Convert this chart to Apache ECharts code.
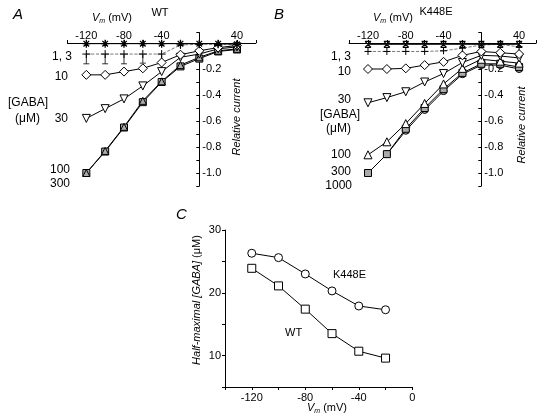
<!DOCTYPE html>
<html><head><meta charset="utf-8">
<script src="https://cdn.jsdelivr.net/npm/echarts@6/dist/echarts.min.js"></script>
<style>html,body{margin:0;padding:0;background:#fff}#c{width:546px;height:419px}</style>
</head><body><div id="c"></div>
<script>
// Panel A/B voltages (mV)
const vm = [-120,-100,-80,-60,-40,-20,0,20,40];
// Panel A: WT relative currents
const wt1   = [-0.005,-0.005,-0.005,-0.005,-0.005,-0.005,-0.005,-0.005,-0.01];
const wt3   = [-0.085,-0.085,-0.085,-0.085,-0.085,-0.015,-0.01,-0.01,-0.015];
const wt3Err= [0.075,0.075,0.075,0.07,0.07];
const wt10  = [-0.245,-0.245,-0.22,-0.195,-0.15,-0.09,-0.06,-0.035,-0.02];
const wt30  = [-0.58,-0.505,-0.43,-0.33,-0.22,-0.11,-0.085,-0.045,-0.03];
const wt100 = [-1.0,-0.83,-0.645,-0.445,-0.295,-0.17,-0.11,-0.06,-0.045];
const wt300 = [-1.0,-0.835,-0.65,-0.455,-0.3,-0.18,-0.12,-0.065,-0.05];
// Panel B: K448E relative currents
const k1    = [-0.01,-0.01,-0.01,-0.01,-0.01,-0.01,-0.01,-0.01,-0.01];
const k3    = [-0.065,-0.065,-0.065,-0.065,-0.06,-0.04,-0.015,-0.01,-0.03];
const k10   = [-0.2,-0.2,-0.195,-0.17,-0.145,-0.095,-0.065,-0.075,-0.085];
const k30   = [-0.46,-0.42,-0.375,-0.3,-0.235,-0.15,-0.095,-0.1,-0.115];
const k100  = [-0.86,-0.76,-0.62,-0.465,-0.315,-0.195,-0.125,-0.14,-0.155];
const k300  = [-1.0,-0.855,-0.66,-0.5,-0.355,-0.23,-0.16,-0.16,-0.185];
const k1000 = [-1.0,-0.855,-0.675,-0.515,-0.37,-0.24,-0.17,-0.17,-0.2];
// Panel C: half-maximal [GABA] (uM)
const cVm   = [-120,-100,-80,-60,-40,-20];
const cK448E= [26.3,25.6,23.0,20.3,17.9,17.3];
const cWT   = [23.9,21.1,17.4,13.5,10.7,9.6];
// tick labels
const abXLabels = [-120,-80,-40,40];
const abYLabels = [-0.2,-0.4,-0.6,-0.8,-1.0];
const cXLabels = [-120,-80,-40,0];
const cYLabels = [10,20,30];

const FONT = 'Liberation Sans, Arial, sans-serif';
const SYM = {
  star: 'path://M0,5 L10,5 M5,0 L5,10 M1.5,1.5 L8.5,8.5 M8.5,1.5 L1.5,8.5',
  plus: 'path://M0,5 L10,5 M5,0 L5,10',
  hour: 'path://M0,0 L10,0 M0,10 L10,10 M0,0 L10,10 M10,0 L0,10'
};
const pair = (xs, ys) => xs.map((x,i)=>[x, ys[i]]);

function ivSeries(idx, ys, symbol, opts) {
  opts = opts || {};
  return {
    type:'line', xAxisIndex: idx, yAxisIndex: idx, data: pair(vm, ys),
    symbol: symbol, symbolSize: opts.size || 7, symbolRotate: opts.rot || 0,
    showAllSymbol: true, animation: false, z: opts.z || 3,
    lineStyle: {color: opts.lc || '#000', width: opts.lw || 1, type: opts.dash ? 'dashed' : 'solid'},
    itemStyle: {color: opts.fill || '#fff', borderColor:'#000', borderWidth: opts.bw || 1, opacity:1},
    emphasis: {disabled:true}
  };
}

// grid geometry: x axis sits at y=0, y axis at x=0 (placed via offset from the grid edge)
function ivX(idx, max, off) {
  return {
    type:'value', gridIndex: idx, min:-140, max: max, interval:20, position:'top', offset: off,
    axisLine:{onZero:false, lineStyle:{color:'#000', width:1}},
    axisTick:{show:true, length:3, lineStyle:{color:'#000'}},
    axisLabel:{color:'#000', fontSize:11, fontFamily:FONT, margin:2,
      formatter: v => abXLabels.includes(v) ? String(v) : ''},
    splitLine:{show:false}, z:1
  };
}
function ivY(idx, off) {
  return {
    type:'value', gridIndex: idx, min:-1.1, max:0.08, interval:0.1, position:'right', offset: off,
    axisLine:{onZero:false, lineStyle:{color:'#000', width:1}},
    axisTick:{show:true, inside:true, length:3, lineStyle:{color:'#000'}},
    axisLabel:{color:'#000', fontSize:11, fontFamily:FONT, margin:3,
      formatter: v => { const r = Math.round(v*10)/10; return abYLabels.includes(r) ? r.toFixed(1) : ''; }},
    splitLine:{show:false}, z:1
  };
}

const vmRich = {
  i:{fontStyle:'italic', fontSize:11, fontFamily:FONT, fill:'#000'},
  s:{fontStyle:'italic', fontSize:7, fontFamily:FONT, fill:'#000', padding:[6,0,0,0]},
  n:{fontSize:11, fontFamily:FONT, fill:'#000'}
};
function txt(x, y, text, o) {
  o = o || {};
  return {type:'text', x:x, y:y, rotation: o.rot || 0, silent:true,
    style:{text:text, fill:'#000', fontSize:o.size || 11, fontFamily:FONT, fontStyle:o.italic?'italic':'normal',
      align:o.align || 'left', verticalAlign:'middle', rich:o.rich}};
}

const option = {
  backgroundColor:'#fff', animation:false,
  grid:[
    {left:67.5, top:32.6, width:188.3, height:153.4, outerBoundsMode:'none'},
    {left:349.1, top:32.6, width:187, height:153.4, outerBoundsMode:'none'},
    {left:225, top:230, width:187.3, height:157, outerBoundsMode:'none'}
  ],
  xAxis:[ivX(0,60,-10.4), ivX(1,58,-10.4), {
    type:'value', gridIndex:2, min:-140, max:0, interval:20, position:'bottom',
    axisLine:{onZero:false, lineStyle:{color:'#000'}},
    axisTick:{length:3, lineStyle:{color:'#000'}},
    axisLabel:{color:'#000', fontSize:11, fontFamily:FONT, margin:5,
      formatter: v => cXLabels.includes(v) ? String(v) : ''},
    splitLine:{show:false}
  }],
  yAxis:[ivY(0,-56.5), ivY(1,-54.8), {
    type:'value', gridIndex:2, min:5, max:30, interval:5, position:'left',
    axisLine:{onZero:false, lineStyle:{color:'#000'}},
    axisTick:{length:3, lineStyle:{color:'#000'}},
    axisLabel:{color:'#000', fontSize:11, fontFamily:FONT, margin:4,
      formatter: v => cYLabels.includes(v) ? String(v) : ''},
    splitLine:{show:false}
  }],
  series:[
    // Panel A
    ivSeries(0, wt300, 'rect', {fill:'#aaa', size:7}),
    ivSeries(0, wt100, 'triangle', {fill:'#aaa', size:7}),
    ivSeries(0, wt30, 'triangle', {rot:180, size:8}),
    ivSeries(0, wt10, 'diamond', {size:9}),
    {type:'custom', xAxisIndex:0, yAxisIndex:0, animation:false, z:2,
      data: wt3Err.map((e,i)=>[vm[i], wt3[i], wt3[i]-e]),
      renderItem:(params, api)=>{
        const p1 = api.coord([api.value(0), api.value(1)]);
        const p2 = api.coord([api.value(0), api.value(2)]);
        return {type:'group', children:[
          {type:'line', shape:{x1:p1[0],y1:p1[1],x2:p2[0],y2:p2[1]}, style:{stroke:'#000', lineWidth:0.8}},
          {type:'line', shape:{x1:p2[0]-3,y1:p2[1],x2:p2[0]+3,y2:p2[1]}, style:{stroke:'#000', lineWidth:0.8}}
        ]};
      }},
    ivSeries(0, wt3, SYM.plus, {lc:'#555', lw:0.8, size:8, fill:'#000', dash:true}),
    ivSeries(0, wt1, SYM.star, {size:8, fill:'#000', bw:1.3, z:4}),
    // Panel B
    ivSeries(1, k1000, 'circle', {fill:'#aaa', size:7}),
    ivSeries(1, k300, 'rect', {fill:'#aaa', size:7}),
    ivSeries(1, k100, 'triangle', {size:8}),
    ivSeries(1, k30, 'triangle', {rot:180, size:8}),
    ivSeries(1, k10, 'diamond', {size:9}),
    ivSeries(1, k3, SYM.plus, {lc:'#555', lw:0.8, size:7, fill:'#000', dash:true}),
    ivSeries(1, k1, SYM.hour, {size:6, fill:'#000', bw:1.2, z:4}),
    // Panel C
    {type:'line', xAxisIndex:2, yAxisIndex:2, data:pair(cVm, cK448E), symbol:'circle', symbolSize:8,
      lineStyle:{color:'#000', width:1}, itemStyle:{color:'#fff', borderColor:'#000', borderWidth:1}, animation:false},
    {type:'line', xAxisIndex:2, yAxisIndex:2, data:pair(cVm, cWT), symbol:'rect', symbolSize:8,
      lineStyle:{color:'#000', width:1}, itemStyle:{color:'#fff', borderColor:'#000', borderWidth:1}, animation:false}
  ],
  graphic:[
    // Panel A annotations
    txt(13, 15, 'A', {italic:true, size:15}),
    txt(160, 13, 'WT', {align:'center'}),
    txt(112, 18, '{i|V}{s|m}{n| (mV)}', {align:'center', rich:vmRich}),
    txt(72, 57, '1, 3', {align:'right', size:12}),
    txt(68, 77, '10', {align:'right', size:12}),
    txt(8, 103, '[GABA]', {size:12}),
    txt(15, 119, '(\u03bcM)', {size:12}),
    txt(68, 119, '30', {align:'right', size:12}),
    txt(70, 170, '100', {align:'right', size:12}),
    txt(70, 184, '300', {align:'right', size:12}),
    txt(237, 117, 'Relative current', {italic:true, align:'center', rot:Math.PI/2}),
    // Panel B annotations
    txt(274, 15, 'B', {italic:true, size:15}),
    txt(436, 12, 'K448E', {align:'center'}),
    txt(393, 18, '{i|V}{s|m}{n| (mV)}', {align:'center', rich:vmRich}),
    txt(351, 57, '1, 3', {align:'right', size:12}),
    txt(351, 72, '10', {align:'right', size:12}),
    txt(351, 100, '30', {align:'right', size:12}),
    txt(320, 115, '[GABA]', {size:12}),
    txt(326, 129, '(\u03bcM)', {size:12}),
    txt(351, 155, '100', {align:'right', size:12}),
    txt(351, 172, '300', {align:'right', size:12}),
    txt(352, 186, '1000', {align:'right', size:12}),
    txt(522, 125, 'Relative current', {italic:true, align:'center', rot:Math.PI/2}),
    // Panel C annotations
    txt(176, 215, 'C', {italic:true, size:15}),
    txt(333, 275, 'K448E'),
    txt(285, 333, 'WT'),
    txt(197, 300, '{i|Half-maximal [GABA]}{n| (\u03bcM)}', {align:'center', rot:Math.PI/2, rich:vmRich}),
    txt(327, 408, '{i|V}{s|m}{n| (mV)}', {align:'center', rich:vmRich})
  ]
};
const chart = echarts.init(document.getElementById('c'), null, {renderer:'canvas'});
chart.setOption(option);
</script></body></html>
